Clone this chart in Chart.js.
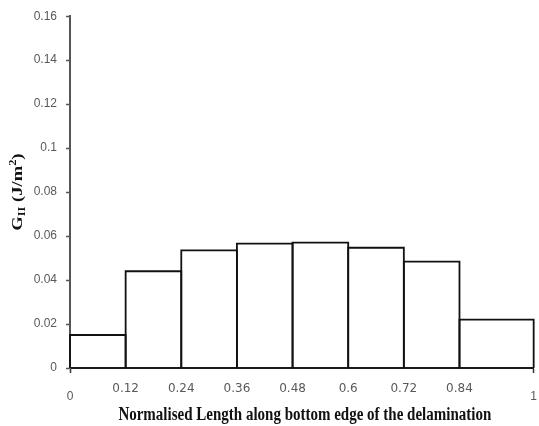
<!DOCTYPE html>
<html>
<head>
<meta charset="utf-8">
<script src="https://cdn.jsdelivr.net/npm/chart.js@4/dist/chart.umd.min.js"></script>
<style>
  html, body { margin: 0; padding: 0; background: #ffffff; }
  #wrap { width: 539px; height: 426px; position: relative; }
</style>
</head>
<body>
<div id="wrap"><canvas id="c" width="539" height="426"></canvas></div>
<script>
// ---- Data ----
const binEdges = [0, 0.12, 0.24, 0.36, 0.48, 0.6, 0.72, 0.84, 1];
const gValues = [0.015, 0.044, 0.0535, 0.0566, 0.057, 0.0547, 0.0484, 0.022];
const xTickValues = [0, 0.12, 0.24, 0.36, 0.48, 0.6, 0.72, 0.84, 1];
const xTickLabels = ['0', '0.12', '0.24', '0.36', '0.48', '0.6', '0.72', '0.84', '1'];
const yTickValues = [0, 0.02, 0.04, 0.06, 0.08, 0.1, 0.12, 0.14, 0.16];
const yTickLabels = ['0', '0.02', '0.04', '0.06', '0.08', '0.1', '0.12', '0.14', '0.16'];
const xTitle = 'Normalised Length along bottom edge of the delamination';
const yTitleParts = [
  { text: 'G', kind: 'main' },
  { text: 'II', kind: 'sub' },
  { text: ' (J/m', kind: 'main' },
  { text: '2', kind: 'sup' },
  { text: ')', kind: 'main' }
];

// one closed outline per bin, built from the arrays above
const datasets = gValues.map((v, i) => ({
  data: [
    { x: binEdges[i], y: 0 },
    { x: binEdges[i], y: v },
    { x: binEdges[i + 1], y: v },
    { x: binEdges[i + 1], y: 0 }
  ],
  borderColor: '#111111',
  borderWidth: 1.8,
  pointRadius: 0,
  fill: false,
  tension: 0,
  clip: false
}));

const isEnd = (v) => v === xTickValues[0] || v === xTickValues[xTickValues.length - 1];

const titlePlugin = {
  id: 'titles',
  afterDraw(chart) {
    const ctx = chart.ctx;
    const ca = chart.chartArea;
    const stretch = 1.24;
    // x title
    ctx.save();
    ctx.fillStyle = '#111111';
    ctx.font = 'bold 15px "Liberation Serif", "Times New Roman", serif';
    ctx.textAlign = 'center';
    ctx.textBaseline = 'alphabetic';
    ctx.translate((ca.left + ca.right) / 2 + 3, ca.bottom + 52);
    ctx.scale(1, stretch);
    ctx.fillText(xTitle, 0, 0);
    ctx.restore();

    // y title (rotated, with sub/superscripts)
    ctx.save();
    ctx.fillStyle = '#111111';
    ctx.textAlign = 'left';
    ctx.textBaseline = 'alphabetic';
    const fonts = {
      main: 'bold 15px "Liberation Serif", "Times New Roman", serif',
      sub: 'bold 10px "Liberation Serif", "Times New Roman", serif',
      sup: 'bold 10px "Liberation Serif", "Times New Roman", serif'
    };
    const offs = { main: 0, sub: 3, sup: -6 };
    let total = 0;
    const widths = yTitleParts.map(p => { ctx.font = fonts[p.kind]; const w = ctx.measureText(p.text).width; total += w; return w; });
    ctx.translate(21.5, (ca.top + ca.bottom) / 2);
    ctx.rotate(-Math.PI / 2);
    ctx.scale(stretch, 1);
    let x = -total / 2;
    yTitleParts.forEach((p, i) => {
      ctx.font = fonts[p.kind];
      ctx.fillText(p.text, x, offs[p.kind]);
      x += widths[i];
    });
    ctx.restore();
  }
};

new Chart(document.getElementById('c'), {
  type: 'line',
  data: { datasets },
  plugins: [titlePlugin],
  options: {
    responsive: false,
    animation: false,
    events: [],
    layout: { padding: { top: 14, right: 3, left: 0, bottom: 0 } },
    plugins: { legend: { display: false }, tooltip: { enabled: false }, title: { display: false } },
    scales: {
      x: {
        type: 'linear',
        min: 0,
        max: 1,
        afterBuildTicks: (scale) => { scale.ticks = xTickValues.map(v => ({ value: v })); },
        afterFit: (scale) => { scale.height = 58; },
        border: { display: true, color: '#1a1a1a', width: 2 },
        grid: {
          display: true,
          drawOnChartArea: false,
          drawTicks: true,
          tickLength: 5,
          tickWidth: 1.5,
          tickColor: (c) => (c.tick && isEnd(c.tick.value)) ? '#333333' : 'rgba(0,0,0,0)'
        },
        ticks: {
          autoSkip: false,
          maxRotation: 0,
          minRotation: 0,
          padding: 2,
          color: '#595959',
          callback: (v, i) => xTickLabels[i],
          font: (c) => (c.tick && isEnd(c.tick.value))
            ? { family: '"Liberation Sans", Arial, sans-serif', size: 12, lineHeight: '43px' }
            : { family: '"DejaVu Sans", Verdana, sans-serif', size: 12, lineHeight: '28px' }
        }
      },
      y: {
        type: 'linear',
        min: 0,
        max: 0.16,
        afterBuildTicks: (scale) => { scale.ticks = yTickValues.map(v => ({ value: v })); },
        afterFit: (scale) => { scale.width = 70; },
        border: { display: true, color: '#555555', width: 2 },
        grid: {
          display: true,
          drawOnChartArea: false,
          drawTicks: true,
          tickLength: 4,
          tickWidth: 1.5,
          tickColor: '#555555'
        },
        ticks: {
          padding: 9,
          color: '#595959',
          callback: (v, i) => yTickLabels[i],
          font: { family: '"Liberation Sans", Arial, sans-serif', size: 12 }
        }
      }
    }
  }
});
</script>
</body>
</html>
